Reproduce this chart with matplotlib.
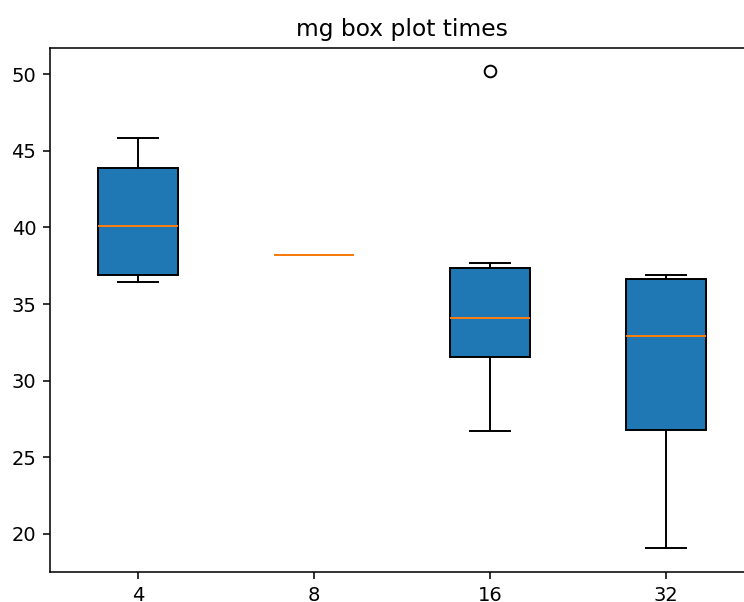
import matplotlib
matplotlib.use("Agg")
import matplotlib.pyplot as plt

# Per-group summary statistics of the measured times
labels = ["4", "8", "16", "32"]
medians = [40.1, 38.2, 34.1, 32.9]
q1s = [36.9, 38.2, 31.55, 26.8]
q3s = [43.85, 38.2, 37.35, 36.6]
whislos = [36.45, 38.2, 26.7, 19.1]
whishis = [45.8, 38.2, 37.7, 36.9]
fliers = [[], [], [50.2], []]

stats = [
    dict(label=lab, med=m, q1=a, q3=b, whislo=lo, whishi=hi, fliers=f)
    for lab, m, a, b, lo, hi, f in zip(labels, medians, q1s, q3s, whislos, whishis, fliers)
]

DPI = 140
W, H = 744, 602
fig = plt.figure(figsize=(W / DPI, H / DPI), dpi=DPI)
ax = fig.add_axes([50 / W, (H - 572) / H, (754 - 50) / W, (572 - 48) / H])
ax.bxp(stats, patch_artist=True)
ax.set_ylim(17.52, 51.7)
ax.set_title("mg box plot times")
fig.savefig("out.png", dpi=DPI)
